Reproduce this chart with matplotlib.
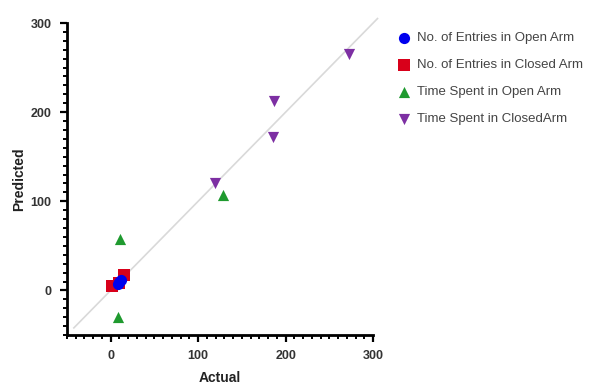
import matplotlib
matplotlib.use("Agg")
import matplotlib.pyplot as plt
from matplotlib.ticker import MultipleLocator

plt.rcParams['font.family'] = ['Liberation Sans', 'DejaVu Sans']

# Actual vs predicted values per measure
entries_open_actual = [8, 10, 12]
entries_open_pred = [7, 10, 12]
entries_closed_actual = [2, 10, 15]
entries_closed_pred = [5, 8, 17]
time_open_actual = [11, 9, 129]
time_open_pred = [58, -30, 107]
time_closed_actual = [119, 186, 187, 273]
time_closed_pred = [120, 172, 213, 265]

labels = ["No. of Entries in Open Arm", "No. of Entries in Closed Arm",
          "Time Spent in Open Arm", "Time Spent in ClosedArm"]

fig = plt.figure(figsize=(5.97, 3.9), dpi=100)
ax = fig.add_axes([0.112, 0.141, 0.513, 0.80])

# identity line
ax.plot([-42, 305], [-42, 305], color='#d9d9d9', lw=1.2, zorder=1, clip_on=False)

ms = 65
ax.scatter(time_closed_actual, time_closed_pred, marker='v', s=ms, color='#7d2fa3',
           label=labels[3], zorder=3, linewidths=0)
ax.scatter(time_open_actual, time_open_pred, marker='^', s=ms, color='#1f9a2f',
           label=labels[2], zorder=3, linewidths=0)
ax.scatter(entries_closed_actual, entries_closed_pred, marker='s', s=ms, color='#d8001a',
           label=labels[1], zorder=4, linewidths=0)
ax.scatter(entries_open_actual, entries_open_pred, marker='o', s=ms, color='#0000ee',
           label=labels[0], zorder=5, linewidths=0)

ax.set_xlim(-50, 300)
ax.set_ylim(-50, 300)
ax.xaxis.set_major_locator(MultipleLocator(100))
ax.yaxis.set_major_locator(MultipleLocator(100))
ax.xaxis.set_minor_locator(MultipleLocator(10))
ax.yaxis.set_minor_locator(MultipleLocator(10))

for s in ['top', 'right']:
    ax.spines[s].set_visible(False)
for s in ['left', 'bottom']:
    ax.spines[s].set_linewidth(2)
ax.tick_params(which='major', length=5, width=1.6, labelsize=9, pad=6)
ax.tick_params(which='minor', length=3, width=1.4)
for t in ax.get_xticklabels() + ax.get_yticklabels():
    t.set_fontweight('bold')
    t.set_color('#333333')

ax.set_xlabel("Actual", fontsize=10, fontweight='bold', color='#222222', labelpad=6)
ax.set_ylabel("Predicted", fontsize=10, fontweight='bold', color='#222222', labelpad=3)

handles, labs = ax.get_legend_handles_labels()
order = [3, 2, 1, 0]
ax.legend([handles[i] for i in order], [labs[i] for i in order],
          loc='upper left', bbox_to_anchor=(0.645, 0.948), bbox_transform=fig.transFigure,
          frameon=False, fontsize=9.5, labelspacing=1.12, handletextpad=0.5,
          handlelength=1.0, scatterpoints=1, labelcolor='#444444')

fig.savefig("out.png", dpi=100)
